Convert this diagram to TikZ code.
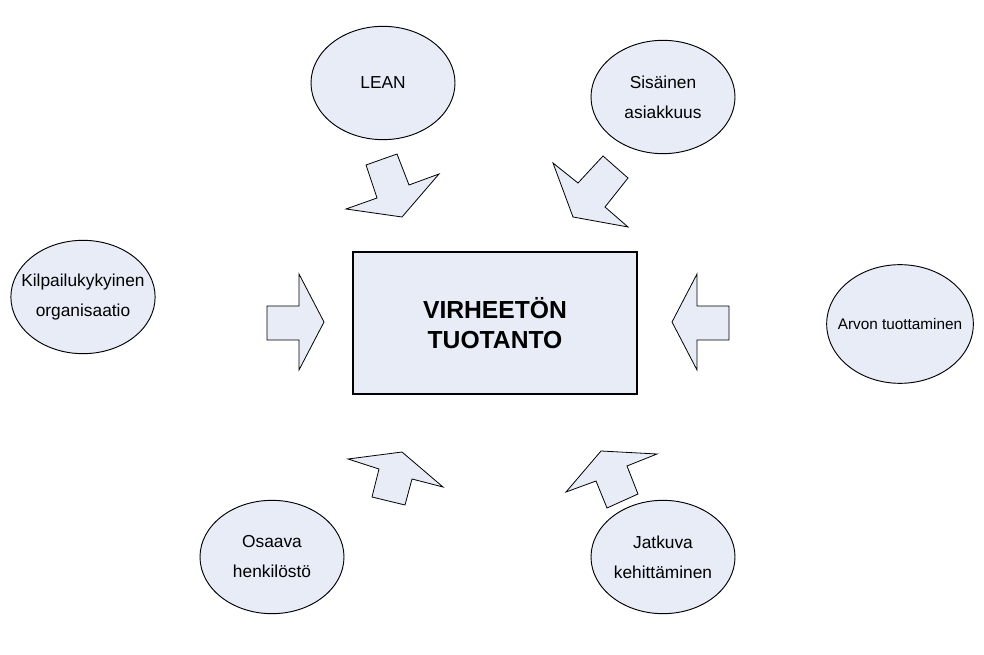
\documentclass[tikz,border=0pt]{standalone}
\usepackage{fontspec}
\setmainfont{Liberation Sans}
\usetikzlibrary{shapes.geometric}
\definecolor{paleblue}{RGB}{231,236,247}
\tikzstyle{bubble} = [ellipse, draw=black, fill=paleblue, line width=0.7pt, minimum width=108pt, minimum height=85pt, inner xsep=-8pt, inner ysep=0pt, align=center, font=\fontsize{13}{22.5}\selectfont]
\tikzstyle{goal} = [rectangle, draw=black, fill=paleblue, line width=0.8pt, minimum width=213pt, minimum height=106.5pt, align=center, font=\fontsize{18.5}{22.5}\selectfont\bfseries]
\tikzstyle{blockarrow} = [draw=black, fill=paleblue, line width=0.6pt, line join=miter]

\begin{document}
\begin{tikzpicture}[x=0.75pt, y=-0.75pt]
    \useasboundingbox (0,0) rectangle (984,655);
    \node (goal) [goal] at (495,323) {VIRHEETÖN\\TUOTANTO};
    \node (lean) [bubble] at (383,83) {LEAN};
    \node (sisainen) [bubble] at (663,97) {Sisäinen\\asiakkuus};
    \node (kilpailu) [bubble] at (83,297) {Kilpailukykyinen\\organisaatio};
    \node (arvo) [bubble, minimum width=110pt, minimum height=89pt, font=\fontsize{11.5}{12}\selectfont] at (900,324) {Arvon tuottaminen};
    \node (osaava) [bubble] at (272,557) {Osaava\\henkilöstö};
    \node (jatkuva) [bubble] at (663,557) {Jatkuva\\kehittäminen};
    % block arrows towards the goal
    \draw [blockarrow] (366,165) -- (397,154) -- (409,185) -- (439,174) -- (402,217) -- (346,209) -- (377,198) -- cycle;
    \draw [blockarrow] (603,156) -- (628,178) -- (605,207) -- (628,227) -- (573,217) -- (553,163) -- (578,183) -- cycle;
    \draw [blockarrow] (267,306) -- (299,306) -- (299,274) -- (324,322) -- (299,370) -- (299,340) -- (267,340) -- cycle;
    \draw [blockarrow] (729,306) -- (697,306) -- (697,274) -- (672,322) -- (697,370) -- (697,340) -- (729,340) -- cycle;
    \draw [blockarrow] (405,505) -- (372,497) -- (379,469) -- (348,459) -- (402,452) -- (443,487) -- (412,479) -- cycle;
    \draw [blockarrow] (607,508) -- (596,481) -- (566,492) -- (601,451) -- (657,454) -- (627,466) -- (638,494) -- cycle;
\end{tikzpicture}
\end{document}
